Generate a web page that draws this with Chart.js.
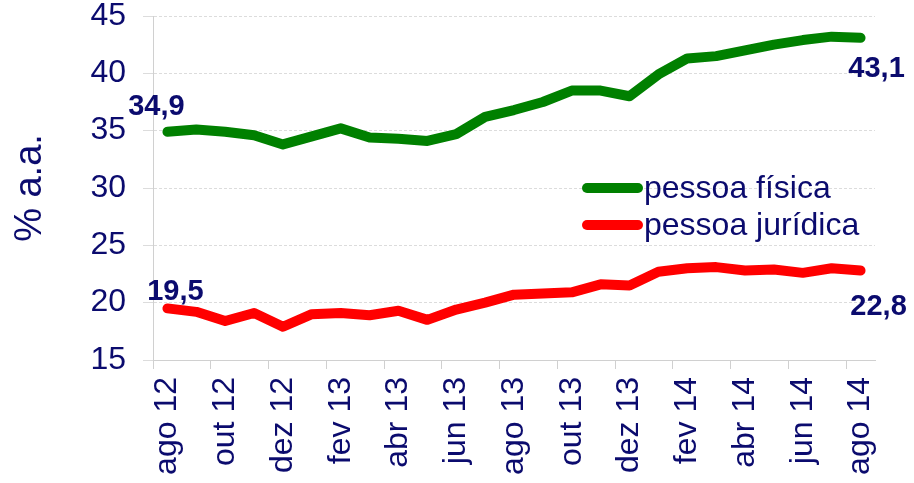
<!DOCTYPE html>
<html>
<head>
<meta charset="utf-8">
<script src="https://cdn.jsdelivr.net/npm/chart.js@4/dist/chart.umd.min.js"></script>
<style>
  html, body { margin: 0; padding: 0; background: #fff; }
  #wrap { width: 914px; height: 483px; }
</style>
</head>
<body>
<div id="wrap"><canvas id="taxas"></canvas></div>
<script>
// meses de ago/12 a ago/14
const meses = ['ago 12', 'set 12', 'out 12', 'nov 12', 'dez 12', 'jan 13', 'fev 13', 'mar 13', 'abr 13',
    'mai 13', 'jun 13', 'jul 13', 'ago 13', 'set 13', 'out 13', 'nov 13', 'dez 13', 'jan 14', 'fev 14',
    'mar 14', 'abr 14', 'mai 14', 'jun 14', 'jul 14', 'ago 14'];
const pessoaFisica = [34.9, 35.1, 34.9, 34.6, 33.8, 34.5, 35.2, 34.4, 34.3, 34.1, 34.7, 36.2, 36.8,
    37.5, 38.5, 38.5, 38.0, 39.9, 41.3, 41.5, 42.0, 42.5, 42.9, 43.2, 43.1];
const pessoaJuridica = [19.5, 19.2, 18.4, 19.1, 17.9, 19.0, 19.1, 18.9, 19.3, 18.5, 19.4, 20.0, 20.7,
    20.8, 20.9, 21.6, 21.5, 22.7, 23.0, 23.1, 22.8, 22.9, 22.6, 23.0, 22.8];
const eixoY = { min: 15, max: 45, passo: 5 };

const azul = '#0b0b6e';
const fonte = 'Liberation Sans, Arial, sans-serif';

// rótulos do primeiro e do último ponto
const rotulosPontas = {
    id: 'rotulosPontas',
    afterDatasetsDraw(chart) {
        const ctx = chart.ctx;
        // deslocamentos [primeiro, último] por série
        const desloc = [
            [[-11, -25], [16, 31]],
            [[8, -16], [18, 36]]
        ];
        ctx.save();
        ctx.font = 'bold 29px ' + fonte;
        ctx.fillStyle = azul;
        ctx.textAlign = 'center';
        ctx.textBaseline = 'middle';
        chart.data.datasets.forEach(function (ds, i) {
            const meta = chart.getDatasetMeta(i);
            [0, ds.data.length - 1].forEach(function (idx, k) {
                const p = meta.data[idx];
                const txt = ds.data[idx].toFixed(1).replace('.', ',');
                ctx.fillText(txt, p.x + desloc[i][k][0], p.y + desloc[i][k][1]);
            });
        });
        ctx.restore();
    }
};

// legenda desenhada dentro da área do gráfico
const legendaInterna = {
    id: 'legendaInterna',
    afterDraw(chart) {
        const ctx = chart.ctx;
        ctx.save();
        ctx.font = '32px ' + fonte;
        ctx.textBaseline = 'middle';
        chart.data.datasets.forEach(function (ds, i) {
            const y = 188 + i * 37;
            ctx.strokeStyle = ds.borderColor;
            ctx.lineWidth = 10;
            ctx.lineCap = 'round';
            ctx.beginPath();
            ctx.moveTo(587, y);
            ctx.lineTo(638, y);
            ctx.stroke();
            ctx.fillStyle = azul;
            ctx.fillText(ds.label, 644, y + 1);
        });
        ctx.restore();
    }
};

const ctx = document.getElementById('taxas').getContext('2d');
const grafico = new Chart(ctx, {
    type: 'line',
    data: {
        labels: meses,
        datasets: [
            {
                label: 'pessoa física',
                data: pessoaFisica,
                borderColor: '#008000',
                borderWidth: 10,
                borderCapStyle: 'round',
                borderJoinStyle: 'round',
                pointRadius: 0,
                tension: 0,
                fill: false
            },
            {
                label: 'pessoa jurídica',
                data: pessoaJuridica,
                borderColor: '#ff0000',
                borderWidth: 10,
                borderCapStyle: 'round',
                borderJoinStyle: 'round',
                pointRadius: 0,
                tension: 0,
                fill: false
            }
        ]
    },
    options: {
        responsive: true,
        maintainAspectRatio: false,
        animation: false,
        layout: { padding: { top: 16, right: 39, left: 0, bottom: 0 } },
        plugins: {
            legend: { display: false },
            tooltip: { enabled: false }
        },
        scales: {
            x: {
                offset: true,
                grid: {
                    offset: true,
                    drawOnChartArea: false,
                    tickLength: 9,
                    color: function (c) { return c.index % 2 === 0 ? '#d0d0d0' : 'rgba(0,0,0,0)'; }
                },
                border: { display: true, color: '#d0d0d0' },
                ticks: {
                    autoSkip: false,
                    minRotation: 90,
                    maxRotation: 90,
                    padding: 8,
                    color: azul,
                    font: { family: fonte, size: 32, lineHeight: 1 },
                    callback: function (v, i) { return i % 2 === 0 ? meses[i] : ''; }
                },
                afterFit: function (s) { s.height = 123; s.paddingLeft = 0; s.paddingRight = 0; }
            },
            y: {
                min: eixoY.min,
                max: eixoY.max,
                grid: {
                    color: '#dcdcdc',
                    tickLength: 10
                },
                border: { display: true, color: '#d0d0d0', dash: [3, 2] },
                ticks: {
                    stepSize: eixoY.passo,
                    padding: 17,
                    color: azul,
                    font: { family: fonte, size: 32, lineHeight: 1 }
                },
                title: {
                    display: true,
                    text: '% a.a.',
                    color: azul,
                    font: { family: fonte, size: 38, lineHeight: 1 },
                    padding: { top: 12, bottom: 0 }
                },
                afterFit: function (s) { s.width = 153; s.paddingTop = 0; s.paddingBottom = 0; }
            }
        }
    },
    plugins: [rotulosPontas, legendaInterna]
});
</script>
</body>
</html>
